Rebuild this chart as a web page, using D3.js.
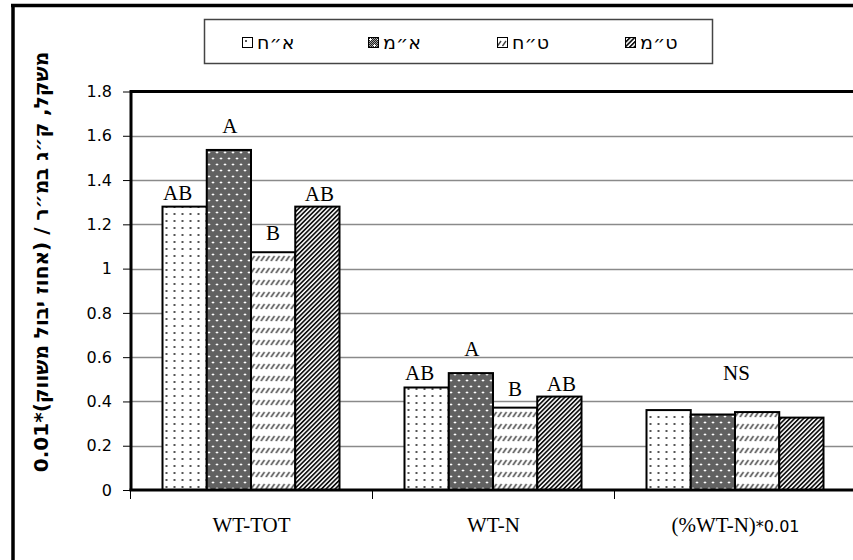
<!DOCTYPE html>
<html>
<head>
<meta charset="utf-8">
<script src="https://cdn.jsdelivr.net/npm/d3@7"></script>
<style>
  html, body { margin: 0; padding: 0; background: #fff; }
  svg { display: block; }
</style>
</head>
<body>
<svg id="chart" width="853" height="560"></svg>
<script>
// Categories along the x axis
const categories = ["WT-TOT", "WT-N", "(%WT-N)*0.01"];
// Treatments (legend order)
const seriesNames = ["א״ח", "א״מ", "ט״ח", "ט״מ"];
// Values per treatment, one per category
const valuesAH = [1.28, 0.463, 0.361];
const valuesAM = [1.536, 0.528, 0.341];
const valuesTH = [1.074, 0.372, 0.352];
const valuesTM = [1.28, 0.422, 0.327];
// Significance letters per category (one per treatment), and group notes
const lettersWT_TOT = ["AB", "A", "B", "AB"];
const lettersWT_N = ["AB", "A", "B", "AB"];
const lettersPct = ["", "", "", ""];
const groupNotes = ["", "", "NS"];
// Y axis ticks
const yTicks = [0, 0.2, 0.4, 0.6, 0.8, 1, 1.2, 1.4, 1.6, 1.8];
const yTitle = "משקל, ק״ג במ״ר / (אחוז יבול משווק)*0.01";

const seriesValues = [valuesAH, valuesAM, valuesTH, valuesTM];
const letters = [lettersWT_TOT, lettersWT_N, lettersPct];
const patternIds = ["pDots", "pCheck", "pDash", "pStripe"];

const svg = d3.select("#chart");
const defs = svg.append("defs");

// --- fill patterns ---
// dotted white
const p1 = defs.append("pattern").attr("id", "pDots")
  .attr("patternUnits", "userSpaceOnUse").attr("width", 8).attr("height", 7);
p1.append("rect").attr("width", 8).attr("height", 7).attr("fill", "#fff");
p1.append("rect").attr("x", 3).attr("y", 3).attr("width", 2).attr("height", 2).attr("fill", "#555");

// dark checker with white sparkles
const p2 = defs.append("pattern").attr("id", "pCheck")
  .attr("patternUnits", "userSpaceOnUse").attr("width", 8).attr("height", 12);
p2.append("rect").attr("width", 8).attr("height", 12).attr("fill", "#a0a0a0");
for (let i = 0; i < 8; i++) {
  for (let j = 0; j < 12; j++) {
    if ((i + j) % 2 === 0) p2.append("rect").attr("x", i).attr("y", j).attr("width", 1).attr("height", 1).attr("fill", "#222");
  }
}
[[2, 2], [6, 8]].forEach(([cx, cy]) => {
  p2.append("rect").attr("x", cx - 1).attr("y", cy).attr("width", 3).attr("height", 1).attr("fill", "#fff");
  p2.append("rect").attr("x", cx).attr("y", cy - 1).attr("width", 1).attr("height", 3).attr("fill", "#fff");
});

// white with short diagonal dashes
const p3 = defs.append("pattern").attr("id", "pDash")
  .attr("patternUnits", "userSpaceOnUse").attr("width", 5).attr("height", 12);
p3.append("rect").attr("width", 5).attr("height", 12).attr("fill", "#fff");
p3.append("line").attr("x1", 0.5).attr("y1", 9).attr("x2", 4).attr("y2", 4)
  .attr("stroke", "#444").attr("stroke-width", 1.4);

// black diagonal stripes
const p4 = defs.append("pattern").attr("id", "pStripe")
  .attr("patternUnits", "userSpaceOnUse").attr("width", 3.2).attr("height", 10)
  .attr("patternTransform", "rotate(45)");
p4.append("rect").attr("width", 3.2).attr("height", 10).attr("fill", "#fff");
p4.append("rect").attr("width", 1.7).attr("height", 10).attr("fill", "#111");

// --- scales ---
const y = d3.scaleLinear().domain([0, 1.8]).range([490, 91.5]);
const x0 = d3.scaleBand().domain(categories).range([130.5, 856.5]);
const x1 = d3.scaleBand().domain(seriesNames).range([32, 209]);

// outer frame
svg.append("line").attr("x1", 13).attr("x2", 13).attr("y1", 4).attr("y2", 560)
  .attr("stroke", "#000").attr("stroke-width", 3.5);
svg.append("line").attr("x1", 11).attr("x2", 853).attr("y1", 5.5).attr("y2", 5.5)
  .attr("stroke", "#000").attr("stroke-width", 3.5);

// gridlines
svg.append("g").selectAll("line").data(yTicks.filter(t => t > 0 && t < 1.8)).join("line")
  .attr("x1", 131).attr("x2", 853)
  .attr("y1", d => Math.round(y(d)) + 0.5).attr("y2", d => Math.round(y(d)) + 0.5)
  .attr("stroke", "#8a8a8a").attr("stroke-width", 1.3);

// bars
const groups = svg.append("g").selectAll("g").data(categories).join("g")
  .attr("transform", d => `translate(${x0(d)},0)`);
groups.selectAll("rect")
  .data((c, ci) => seriesNames.map((s, si) => ({ s, si, v: seriesValues[si][ci] })))
  .join("rect")
  .attr("x", d => x1(d.s))
  .attr("width", x1.bandwidth())
  .attr("y", d => y(d.v))
  .attr("height", d => y(0) - y(d.v))
  .attr("fill", d => `url(#${patternIds[d.si]})`)
  .attr("stroke", "#000").attr("stroke-width", 2);

// significance letters above bars
const letterGap = [7, 17, 12, 6];
const letterDx = [-7, 1, 0, 2];
groups.selectAll("text.sig")
  .data((c, ci) => seriesNames.map((s, si) => ({ s, si, v: seriesValues[si][ci], t: letters[ci][si] })).filter(d => d.t))
  .join("text").attr("class", "sig")
  .attr("x", d => x1(d.s) + x1.bandwidth() / 2 + letterDx[d.si])
  .attr("y", d => y(d.v) - letterGap[d.si])
  .attr("text-anchor", "middle")
  .attr("font-family", "'Liberation Serif', 'Times New Roman', serif")
  .attr("font-size", 21).attr("fill", "#000")
  .text(d => d.t);

groups.filter((c, ci) => groupNotes[ci])
  .append("text")
  .attr("x", x0.bandwidth() / 2 + 1)
  .attr("y", (c) => { const ci = categories.indexOf(c); return y(d3.max(seriesValues, v => v[ci])) - 30; })
  .attr("text-anchor", "middle")
  .attr("font-family", "'Liberation Serif', 'Times New Roman', serif")
  .attr("font-size", 21).attr("fill", "#000")
  .text(c => groupNotes[categories.indexOf(c)]);

// top border of the plot area
svg.append("line").attr("x1", 131).attr("x2", 853).attr("y1", y(1.8)).attr("y2", y(1.8))
  .attr("stroke", "#000").attr("stroke-width", 3);

// y axis
const yAxis = svg.append("g").attr("transform", "translate(131,0)")
  .call(d3.axisLeft(y).tickValues(yTicks).tickSize(8).tickPadding(11).tickFormat(d3.format("")));
yAxis.select(".domain").attr("stroke", "#000").attr("stroke-width", 3).attr("d", `M0,${y(1.8) - 1.5}V${y(0)}`);
yAxis.selectAll(".tick line").attr("stroke", "#000").attr("stroke-width", 1);
yAxis.selectAll(".tick text").attr("font-family", "'DejaVu Sans', Verdana, sans-serif").attr("font-size", 16).attr("fill", "#000");

// x axis
const xAxis = svg.append("g").attr("transform", `translate(0,${y(0)})`);
xAxis.append("line").attr("x1", 129.5).attr("x2", 853).attr("y1", 0).attr("y2", 0)
  .attr("stroke", "#000").attr("stroke-width", 3);
xAxis.selectAll("line.tk").data(categories).join("line").attr("class", "tk")
  .attr("x1", d => x0(d)).attr("x2", d => x0(d)).attr("y1", 0).attr("y2", 9)
  .attr("stroke", "#000").attr("stroke-width", 1);
const xl = xAxis.selectAll("text").data(categories).join("text")
  .attr("x", d => x0(d) + x0.bandwidth() / 2)
  .attr("y", 42)
  .attr("text-anchor", "middle")
  .attr("font-family", "'Liberation Serif', 'Times New Roman', serif")
  .attr("font-size", 21).attr("fill", "#000");
xl.each(function (d) {
  const t = d3.select(this);
  const m = d.match(/^(.*?)(\*[\d.]+)$/);
  if (m) {
    t.append("tspan").text(m[1]);
    t.append("tspan").attr("font-family", "'DejaVu Sans', Verdana, sans-serif").attr("font-size", 16).text(m[2]);
  } else {
    t.text(d);
  }
});

// y axis title
svg.append("text")
  .attr("transform", "translate(48,262) rotate(-90)")
  .attr("text-anchor", "middle")
  .attr("direction", "rtl")
  .attr("font-family", "'DejaVu Sans', Verdana, sans-serif")
  .attr("font-weight", "bold")
  .attr("font-size", 20).attr("fill", "#000")
  .text(yTitle);

// legend
const legend = svg.append("g");
legend.append("rect").attr("x", 204.5).attr("y", 19.5).attr("width", 508).attr("height", 44)
  .attr("fill", "#fff").attr("stroke", "#444").attr("stroke-width", 1.5);
const legendX = [242, 368, 497, 625];
const li = legend.selectAll("g.item").data(seriesNames).join("g").attr("class", "item")
  .attr("transform", (d, i) => `translate(${legendX[i]},37)`);
li.append("rect").attr("x", 0.5).attr("y", 0.5).attr("width", 10).attr("height", 10)
  .attr("fill", (d, i) => `url(#${patternIds[i]})`).attr("stroke", "#000").attr("stroke-width", 1);
li.append("text").attr("x", 15).attr("y", 11.5)
  .attr("font-family", "'DejaVu Sans', Verdana, sans-serif")
  .attr("font-size", 19).attr("fill", "#000")
  .text(d => d);
</script>
</body>
</html>
